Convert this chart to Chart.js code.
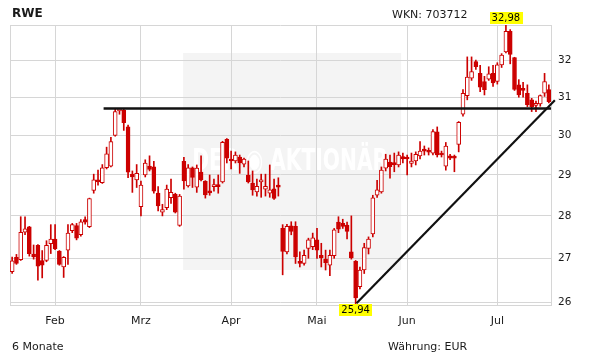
<!DOCTYPE html>
<html>
<head>
<meta charset="utf-8">
<title>RWE</title>
<script src="https://cdn.jsdelivr.net/npm/chart.js@4.4.1/dist/chart.umd.min.js"></script>
<style>
    body { margin: 0; background: #fff; }
    #wrap { position: relative; width: 611px; height: 364px; font-family: "DejaVu Sans", Verdana, sans-serif; color: #1a1a1a; }
    #chart { position: absolute; left: 0; top: 0; }
    .txt { position: absolute; font-size: 11px; line-height: 11px; white-space: nowrap; }
    .title { font-size: 12px; line-height: 12px; font-weight: bold; }
</style>
</head>
<body>
<div id="wrap">
    <canvas id="chart" width="611" height="364"></canvas>
    <div class="txt title" style="left:12px; top:7px;">RWE</div>
    <div class="txt" style="left:392px; top:9px;">WKN: 703712</div>
    <div class="txt" style="left:12px; top:341px;">6 Monate</div>
    <div class="txt" style="left:388px; top:341px;">Währung: EUR</div>
</div>
<script>
// Tageskerzen (Handelstage, Mitte Januar bis Mitte Juli)
const opens = [26.69, 27.02, 26.97, 27.61, 27.74, 27.10, 27.30, 26.95, 26.95, 27.34,
    27.45, 27.17, 26.80, 27.19, 27.65, 27.77, 27.55, 27.91, 27.74, 28.62,
    28.88, 28.81, 29.18, 29.22, 30.00, 30.64, 30.65, 30.22, 29.02, 28.88,
    28.22, 29.00, 29.22, 29.20, 28.55, 28.09, 28.20, 28.44, 28.52, 27.77,
    29.34, 28.73, 29.18, 28.70, 29.07, 28.84, 28.60, 28.71, 28.73, 28.83,
    29.90, 29.40, 29.35, 29.45, 29.27, 29.00, 28.80, 28.58, 28.83, 28.65,
    28.55, 28.66, 28.72, 27.70, 27.15, 27.76, 27.75, 26.93, 26.88, 27.23,
    27.27, 27.43, 27.07, 26.98, 26.84, 27.06, 27.85, 27.82, 27.78, 27.15,
    26.93, 26.35, 26.73, 27.23, 27.57, 28.50, 28.58, 29.17, 29.32, 29.30,
    29.25, 29.46, 29.45, 29.29, 29.35, 29.48, 29.64, 29.60, 29.55, 30.09,
    29.54, 29.22, 29.48, 29.45, 29.77, 30.55, 31.04, 31.51, 31.96, 31.64,
    31.42, 31.48, 31.64, 31.42, 31.87, 32.23, 32.80, 32.07, 31.33, 31.21,
    31.10, 30.93, 30.78, 30.82, 31.11, 31.20];
const highs = [27.03, 27.09, 27.98, 27.98, 27.75, 27.31, 27.32, 27.18, 27.41, 27.79,
    27.79, 27.18, 27.04, 27.79, 27.82, 27.82, 27.91, 27.98, 28.43, 29.02,
    29.12, 29.26, 29.70, 29.95, 30.68, 30.70, 30.70, 30.27, 29.10, 29.26,
    28.85, 29.38, 29.48, 29.34, 28.71, 28.28, 28.75, 28.90, 28.55, 28.52,
    29.44, 29.26, 29.20, 29.25, 29.48, 28.86, 29.00, 28.90, 29.00, 29.85,
    29.92, 29.60, 29.58, 29.50, 29.42, 29.35, 29.10, 28.90, 29.02, 29.02,
    29.25, 28.90, 28.93, 27.79, 27.80, 27.86, 27.86, 27.15, 27.19, 27.47,
    27.59, 27.70, 27.35, 27.19, 27.19, 27.70, 27.98, 27.92, 27.85, 28.00,
    26.95, 26.80, 27.35, 27.50, 28.50, 28.87, 29.20, 29.52, 29.50, 29.55,
    29.58, 29.55, 29.50, 29.55, 29.58, 29.84, 29.73, 29.68, 30.15, 30.22,
    29.60, 29.82, 29.52, 29.50, 30.36, 31.20, 32.09, 32.09, 32.00, 31.86,
    31.56, 31.82, 31.86, 31.93, 32.18, 32.98, 32.85, 32.08, 31.47, 31.40,
    31.33, 30.97, 30.90, 31.06, 31.64, 31.33];
const lows = [26.65, 26.86, 26.95, 27.55, 27.05, 26.98, 26.50, 26.55, 26.92, 27.11,
    27.20, 26.84, 26.56, 26.86, 27.60, 27.43, 27.52, 27.80, 27.72, 28.55,
    28.75, 28.79, 29.15, 29.20, 29.98, 30.55, 30.13, 28.93, 28.57, 28.69,
    28.00, 28.95, 29.10, 28.55, 28.12, 28.00, 28.15, 28.30, 28.07, 27.75,
    28.65, 28.70, 28.69, 28.57, 28.85, 28.43, 28.50, 28.60, 28.55, 28.80,
    29.30, 29.15, 29.30, 29.04, 29.20, 28.80, 28.50, 28.48, 28.45, 28.48,
    28.45, 28.40, 28.48, 26.62, 27.10, 27.55, 26.88, 26.80, 26.84, 27.00,
    27.20, 27.00, 26.80, 26.73, 26.60, 27.00, 27.60, 27.70, 27.45, 26.98,
    25.94, 26.30, 26.65, 27.10, 27.50, 28.45, 28.55, 29.10, 28.92, 29.08,
    29.20, 29.30, 29.00, 29.20, 29.25, 29.40, 29.50, 29.50, 29.50, 29.45,
    29.45, 29.12, 29.38, 29.08, 29.58, 30.50, 30.93, 31.45, 31.75, 31.15,
    31.06, 31.45, 31.29, 31.35, 31.80, 32.20, 31.90, 31.18, 31.00, 31.00,
    30.75, 30.62, 30.62, 30.76, 31.02, 30.85];
const closes = [26.94, 26.88, 27.61, 27.69, 27.11, 27.04, 26.82, 26.84, 27.30, 27.45,
    27.22, 26.86, 27.02, 27.59, 27.79, 27.47, 27.86, 27.85, 28.42, 28.88,
    28.83, 29.18, 29.53, 29.84, 30.62, 30.68, 30.33, 29.07, 28.95, 29.04,
    28.75, 29.30, 29.14, 28.60, 28.24, 28.15, 28.65, 28.57, 28.09, 28.48,
    28.85, 29.18, 28.94, 29.17, 28.88, 28.51, 28.56, 28.73, 28.71, 29.82,
    29.42, 29.35, 29.50, 29.30, 29.40, 28.83, 28.63, 28.72, 28.86, 28.72,
    28.63, 28.42, 28.70, 27.16, 27.75, 27.63, 27.03, 26.88, 27.07, 27.43,
    27.48, 27.19, 27.01, 26.90, 27.07, 27.67, 27.68, 27.75, 27.63, 27.01,
    26.10, 26.73, 27.25, 27.45, 28.44, 28.63, 29.12, 29.40, 29.21, 29.26,
    29.50, 29.40, 29.40, 29.35, 29.52, 29.60, 29.60, 29.57, 30.10, 29.50,
    29.50, 29.73, 29.42, 29.42, 30.34, 31.10, 31.54, 31.69, 31.82, 31.27,
    31.20, 31.63, 31.38, 31.87, 32.14, 32.80, 32.16, 31.21, 31.06, 31.18,
    30.80, 30.75, 30.84, 31.04, 31.42, 30.88];

// Monatsbeschriftung: Index des ersten Handelstags im Monat
const monthLabels = ['Feb', 'Mrz', 'Apr', 'Mai', 'Jun', 'Jul'];
const monthStarts = [10, 30, 51, 71, 92, 113];
const priceTicks = [26, 27, 28, 29, 30, 31, 32];

// eingezeichnete Linien (Widerstand und Aufwärtstrend)
const resistanceLine = [{ x: 21.3, y: 30.70 }, { x: 125.5, y: 30.70 }];
const trendLine = [{ x: 80.2, y: 25.98 }, { x: 126.4, y: 30.92 }];

const RED = '#cc0000';
const GRID = '#d6d6d6';
const FONT = '"DejaVu Sans", Verdana, sans-serif';

const xMin = -0.5;
const xMax = opens.length - 0.5;
const yMin = Math.min(...lows);
const yMax = Math.max(...highs);

const bodies = opens.map((o, i) => ({ x: i, y: [o, closes[i]] }));
const wicks = lows.map((l, i) => ({ x: i, y: [l, highs[i]] }));

function fmt(v) {
    return v.toFixed(2).replace('.', ',');
}

// heller Kasten mit Wasserzeichen hinter den Gitterlinien
const watermark = {
    id: 'watermark',
    beforeDraw(chart) {
        const { ctx, chartArea: a } = chart;
        const w = a.right - a.left, h = a.bottom - a.top;
        const left = a.left + w * 0.32, right = a.left + w * 0.723;
        const top = a.top + h * 0.10, bottom = a.top + h * 0.875;
        ctx.save();
        ctx.fillStyle = '#f4f4f4';
        ctx.fillRect(left, top, right - left, bottom - top);
        ctx.fillStyle = '#ffffff';
        ctx.font = 'bold 30px ' + FONT;
        ctx.textAlign = 'center';
        ctx.textBaseline = 'middle';
        ctx.fillText('DER ◉ AKTIONÄR', (left + right) / 2 - 2, a.top + h * 0.49, 196);
        ctx.restore();
    }
};

// gelbe Marken für Hoch und Tief
const extremes = {
    id: 'extremes',
    afterDatasetsDraw(chart) {
        const { ctx, scales: { x, y } } = chart;
        const hi = highs.indexOf(yMax);
        const lo = lows.indexOf(yMin);
        ctx.save();
        ctx.font = '10px ' + FONT;
        ctx.textAlign = 'center';
        ctx.textBaseline = 'middle';
        [[hi, yMax, -1], [lo, yMin, 1]].forEach(([i, v, dir]) => {
            const label = fmt(v);
            const px = x.getPixelForValue(i);
            const py = y.getPixelForValue(v);
            const bw = ctx.measureText(label).width + 4;
            const bh = 12;
            const by = dir < 0 ? py - bh - 1 : py - 1;
            ctx.fillStyle = '#ffff00';
            ctx.fillRect(Math.round(px - bw / 2), by, Math.round(bw), bh);
            ctx.fillStyle = '#000';
            ctx.fillText(label, px, by + bh / 2 + 0.5);
        });
        ctx.restore();
    }
};

new Chart(document.getElementById('chart'), {
    type: 'bar',
    data: {
        datasets: [{
            type: 'line',
            data: resistanceLine,
            borderColor: '#111',
            borderWidth: 2.4,
            pointRadius: 0,
            order: 0
        }, {
            type: 'line',
            data: trendLine,
            borderColor: '#111',
            borderWidth: 2.2,
            pointRadius: 0,
            clip: false,
            order: 0
        }, {
            data: bodies,
            grouped: false,
            barThickness: 4,
            minBarLength: 2,
            borderWidth: 1,
            borderSkipped: false,
            borderColor: RED,
            backgroundColor: opens.map((o, i) => closes[i] >= o ? '#ffffff' : RED),
            order: 1
        }, {
            data: wicks,
            grouped: false,
            barThickness: 1,
            borderWidth: 0,
            backgroundColor: RED,
            order: 2
        }]
    },
    options: {
        responsive: false,
        animation: false,
        events: [],
        layout: { padding: { left: 10, top: 25, right: 0, bottom: 0 } },
        plugins: {
            legend: { display: false },
            tooltip: { enabled: false },
            title: { display: false }
        },
        scales: {
            x: {
                type: 'linear',
                position: 'bottom',
                offset: false,
                min: xMin,
                max: xMax,
                afterBuildTicks: (scale) => {
                    scale.ticks = [xMin, ...monthStarts, xMax].map(v => ({ value: v }));
                },
                afterFit: (scale) => { scale.height = 59; },
                grid: { color: GRID, drawTicks: false, offset: false },
                border: { color: GRID },
                ticks: {
                    autoSkip: false,
                    maxRotation: 0,
                    padding: 10,
                    color: '#1a1a1a',
                    font: { family: FONT, size: 11 },
                    callback: (v) => {
                        const k = monthStarts.indexOf(v);
                        return k >= 0 ? monthLabels[k] : '';
                    }
                }
            },
            y: {
                type: 'logarithmic',
                position: 'right',
                min: yMin,
                max: yMax,
                afterBuildTicks: (scale) => {
                    scale.ticks = [yMin, ...priceTicks, yMax].map(v => ({ value: v }));
                },
                afterFit: (scale) => { scale.width = 60; },
                grid: { color: GRID, drawTicks: false },
                border: { color: GRID },
                ticks: {
                    padding: 7,
                    color: '#1a1a1a',
                    font: { family: FONT, size: 10.5 },
                    callback: (v) => priceTicks.includes(v) ? String(v) : ''
                }
            }
        }
    },
    plugins: [watermark, extremes]
});
</script>
</body>
</html>
